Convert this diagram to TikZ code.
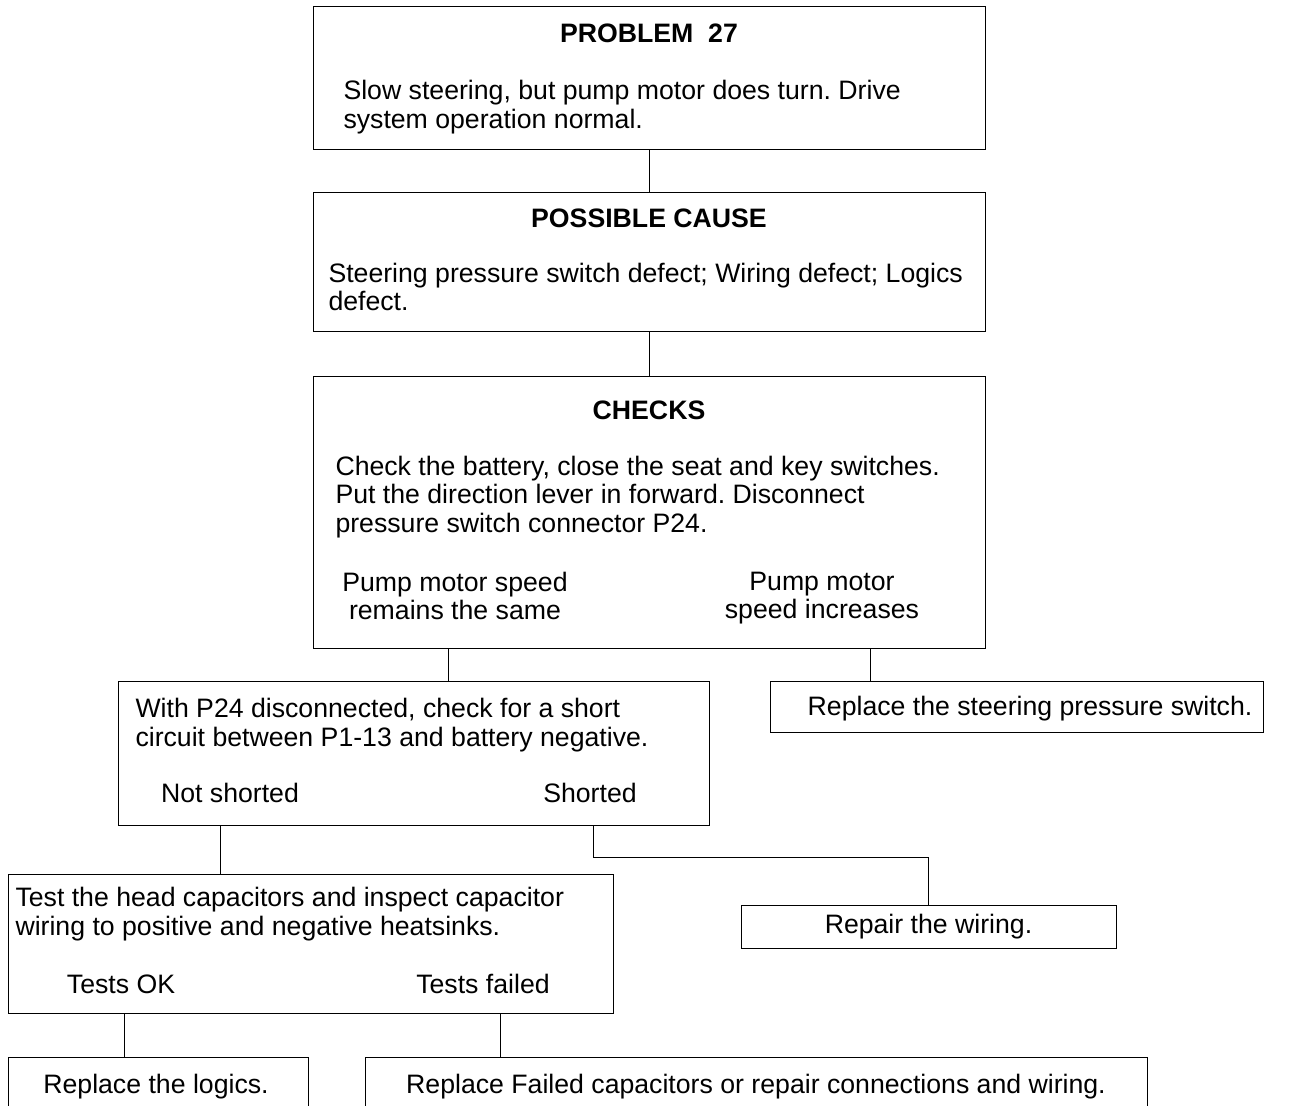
\documentclass[tikz,border=0pt]{standalone}
\usepackage{fontspec}
\setmainfont{Liberation Sans}
\usepackage{tikz}
\usetikzlibrary{fit}
\frenchspacing

\begin{document}
\begin{tikzpicture}[x=0.75pt,y=-0.75pt,line width=0.75pt,
                    every node/.style={font=\fontsize{20}{21.4}\selectfont}]
  \tikzstyle{box}=[draw=black,inner sep=0pt]
  \tikzstyle{title}=[anchor=base,inner sep=0pt,font=\fontsize{20}{21.4}\selectfont\bfseries]
  \tikzstyle{body}=[anchor=north west,align=left,inner sep=0pt]
  \tikzstyle{answer}=[align=center,inner sep=0pt]

  \useasboundingbox (0,0) rectangle (1292,1106);

  % boxes
  \node[box, fit={(313,7) (985,149)}]    (problem)   {};
  \node[box, fit={(313,192) (985,331)}]  (cause)     {};
  \node[box, fit={(313,376) (985,648)}]  (checks)    {};
  \node[box, fit={(118,681) (709,825)}]  (short)     {};
  \node[box, fit={(770,681) (1263,732)}] (switch)    {};
  \node[box, fit={(8,874) (613,1013)}]   (caps)      {};
  \node[box, fit={(741,905) (1116,948)}] (wiring)    {};
  \node[box, fit={(8,1057) (308,1130)}]  (logics)    {};
  \node[box, fit={(365,1057) (1147,1130)}] (repair)  {};

  % texts
  \node[title] (problemtitle) at (649,43) {PROBLEM\ \ 27};
  \node[body]  (problembody) at (343,80)
    {Slow steering, but pump motor does turn. Drive\\system operation normal.};
  \node[title] (causetitle) at (649,227) {POSSIBLE CAUSE};
  \node[body]  (causebody) at (328,262.5)
    {Steering pressure switch defect; Wiring defect; Logics\\defect.};
  \node[title] (checkstitle) at (649,419) {CHECKS};
  \node[body]  (checksbody) at (335,455.5)
    {Check the battery, close the seat and key switches.\\
     Put the direction lever in forward. Disconnect\\
     pressure switch connector P24.};
  \node[answer,anchor=north] (samespeed) at (455,571.5) {Pump motor speed\\remains the same};
  \node[answer,anchor=north] (speedup)   at (822,571.5) {Pump motor\\speed increases};
  \node[body]  (shortbody) at (135,698)
    {With P24 disconnected, check for a short\\circuit between P1-13 and battery negative.};
  \node[answer,anchor=base] (notshorted) at (230,802) {Not shorted};
  \node[answer,anchor=base] (shorted)    at (590,802) {Shorted};
  \node[answer,anchor=base] (switchtext) at (1030,715) {Replace the steering pressure switch.};
  \node[body]  (capsbody) at (15,887)
    {Test the head capacitors and inspect capacitor\\wiring to positive and negative heatsinks.};
  \node[answer,anchor=base] (testsok)     at (121,993) {Tests OK};
  \node[answer,anchor=base] (testsfailed) at (483,993) {Tests failed};
  \node[answer] (wiringtext)  at (wiring) {Repair the wiring.};
  \node[answer,anchor=base] (logicstext)  at (156,1093) {Replace the logics.};
  \node[answer,anchor=base] (repairtext)  at (756,1093)
    {Replace Failed capacitors or repair connections and wiring.};

  % connector legs
  \coordinate (sameleg)   at (448,0);
  \coordinate (upleg)     at (870,0);
  \coordinate (notleg)    at (220,0);
  \coordinate (shortleg)  at (593,0);
  \coordinate (okleg)     at (124,0);
  \coordinate (failleg)   at (500,0);

  \draw (problem.south) -- (cause.north);
  \draw (cause.south) -- (checks.north);
  \draw (checks.south -| sameleg) -- (short.north -| sameleg);
  \draw (checks.south -| upleg) -- (switch.north -| upleg);
  \draw (short.south -| notleg) -- (caps.north -| notleg);
  \draw (short.south -| shortleg) -- ++(0,32) -| (wiring.north);
  \draw (caps.south -| okleg) -- (logics.north -| okleg);
  \draw (caps.south -| failleg) -- (repair.north -| failleg);
\end{tikzpicture}
\end{document}
